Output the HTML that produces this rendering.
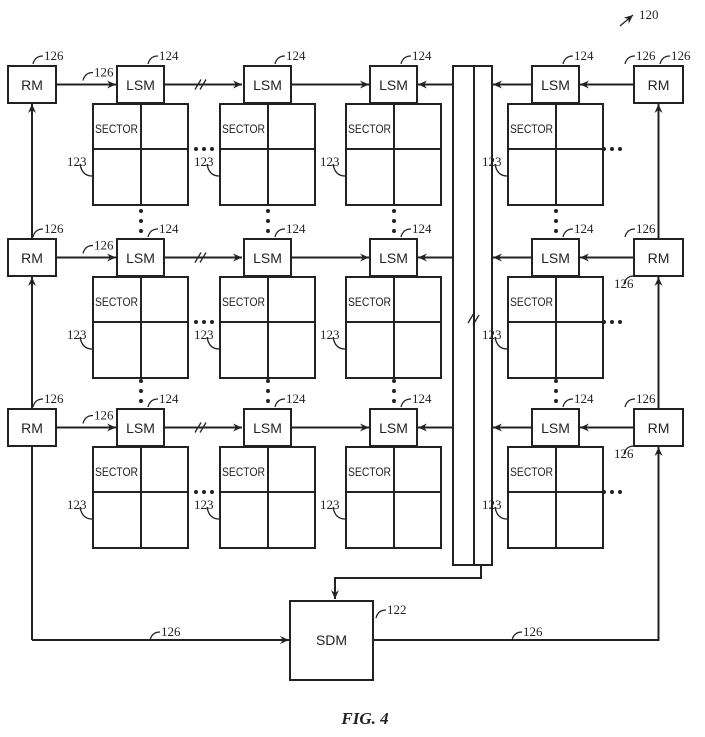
<!DOCTYPE html>
<html><head><meta charset="utf-8"><style>
html,body{margin:0;padding:0;background:#fff;}
svg{display:block;}
text{font-family:"Liberation Sans",sans-serif;fill:#222;}
.n{font-family:"Liberation Serif",serif;font-size:13px;}
</style></head><body>
<svg id="s" width="705" height="737" xmlns="http://www.w3.org/2000/svg">
<defs><marker id="a" markerWidth="10" markerHeight="8" refX="9" refY="4" orient="auto" markerUnits="userSpaceOnUse"><path d="M0,0 L9,4 L0,8 L3,4 Z" fill="#222"/></marker></defs>
<g id="g" stroke="#222" stroke-width="2" fill="none"></g>
<text x="365" y="724" text-anchor="middle" style="font-family:'Liberation Serif',serif;font-style:italic;font-weight:bold;font-size:17px">FIG. 4</text>
</svg>
<script>
var g=document.getElementById('g'),s=document.getElementById('s'),h='',t='';
function L(x1,y1,x2,y2,m){h+='<line x1="'+x1+'" y1="'+y1+'" x2="'+x2+'" y2="'+y2+'"'+(m?' marker-end="url(#a)"':'')+'/>';}
function P(d,m,w){h+='<path d="'+d+'"'+(m?' marker-end="url(#a)"':'')+' stroke-width="'+(w||1.3)+'"/>';}
function R(x,y,w,hh){h+='<rect x="'+x+'" y="'+y+'" width="'+w+'" height="'+hh+'"/>';}
function T(x,y,str,c,sz,anc){t+='<text x="'+x+'" y="'+y+'" class="'+(c||'')+'" font-size="'+(sz||14)+'"'+(anc?' text-anchor="'+anc+'"':'')+'>'+str+'</text>';}
function lab(x,y,str){P('M'+x+','+y+' q2,-8 10,-8');T(x+11,y-4,str,'n');}
function dot(x,y){t+='<circle cx="'+x+'" cy="'+y+'" r="2" fill="#222"/>';}
var rows=[66,239,409],gx=[93,220,346,508];
rows.forEach(function(y,ri){
 var cy=y+18.5;
 gx.forEach(function(x,ci){
  R(x+24,y,47,37);T(x+47.5,y+24,'LSM','',14,'middle');
  R(x,y+38,95,101);L(x+48,y+38,x+48,y+139);L(x,y+83,x+95,y+83);
  t+='<text x="'+(x+2)+'" y="'+(y+67)+'" font-size="12" textLength="43" lengthAdjust="spacingAndGlyphs">SECTOR</text>';
  lab(x+55,y-2,'124');
  P('M'+(x-1)+','+(y+110)+' q-10,0 -12,-12');T(x-26,y+100,'123','n');
 });
 [196,604].forEach(function(dx){dot(dx,y+83);dot(dx+8,y+83);dot(dx+16,y+83);});
 R(8,y,48,37);T(32,y+24,'RM','',14,'middle');
 R(634,y,49,37);T(658.5,y+24,'RM','',14,'middle');
 L(56,cy,116,cy,1);L(165,cy,242,cy,1);L(291,cy,369,cy,1);
 L(453,cy,418,cy,1);L(531,cy,493,cy,1);L(634,cy,580,cy,1);
 var sx=200;h+='<line x1="'+(sx-5)+'" y1="'+(cy+5)+'" x2="'+(sx+1)+'" y2="'+(cy-5)+'" stroke-width="1.3"/><line x1="'+(sx)+'" y1="'+(cy+5)+'" x2="'+(sx+6)+'" y2="'+(cy-5)+'" stroke-width="1.3"/>';
 lab(33,y-2,'126');lab(83,cy-4,'126');
 if(ri==0){lab(625,y-2,'126');lab(660,y-2,'126');}
 else{lab(625,y-2,'126');P('M634,'+(y+37)+' q-8,0 -10,8');T(614,y+49,'126','n');}
 if(ri>0){gx.forEach(function(x){dot(x+48,y-28);dot(x+48,y-18);dot(x+48,y-8);});}
});
L(32,409,32,277,1);L(32,239,32,104,1);
L(658.5,239,658.5,104,1);L(658.5,409,658.5,277,1);L(658.5,640,658.5,447,1);
L(32,447,32,640);L(32,640,289,640,1);L(373,640,659.5,640);
R(453,66,39,499);L(474,66,474,565);
h+='<line x1="468" y1="323" x2="474" y2="313" stroke-width="1.3"/><line x1="473" y1="325" x2="479" y2="315" stroke-width="1.3"/>';
P('M481,565 L481,578 L335,578 L335,599',1,2);
R(290,601,83,79);T(331.5,645,'SDM','',14,'middle');
lab(376,618,'122');lab(150,640,'126');lab(512,640,'126');
h+='<line x1="620" y1="26" x2="633" y2="15" stroke-width="1.3" marker-end="url(#a)"/>';
T(639,19,'120','n');
g.innerHTML=h;s.insertAdjacentHTML('beforeend',t);
</script>
</body></html>
